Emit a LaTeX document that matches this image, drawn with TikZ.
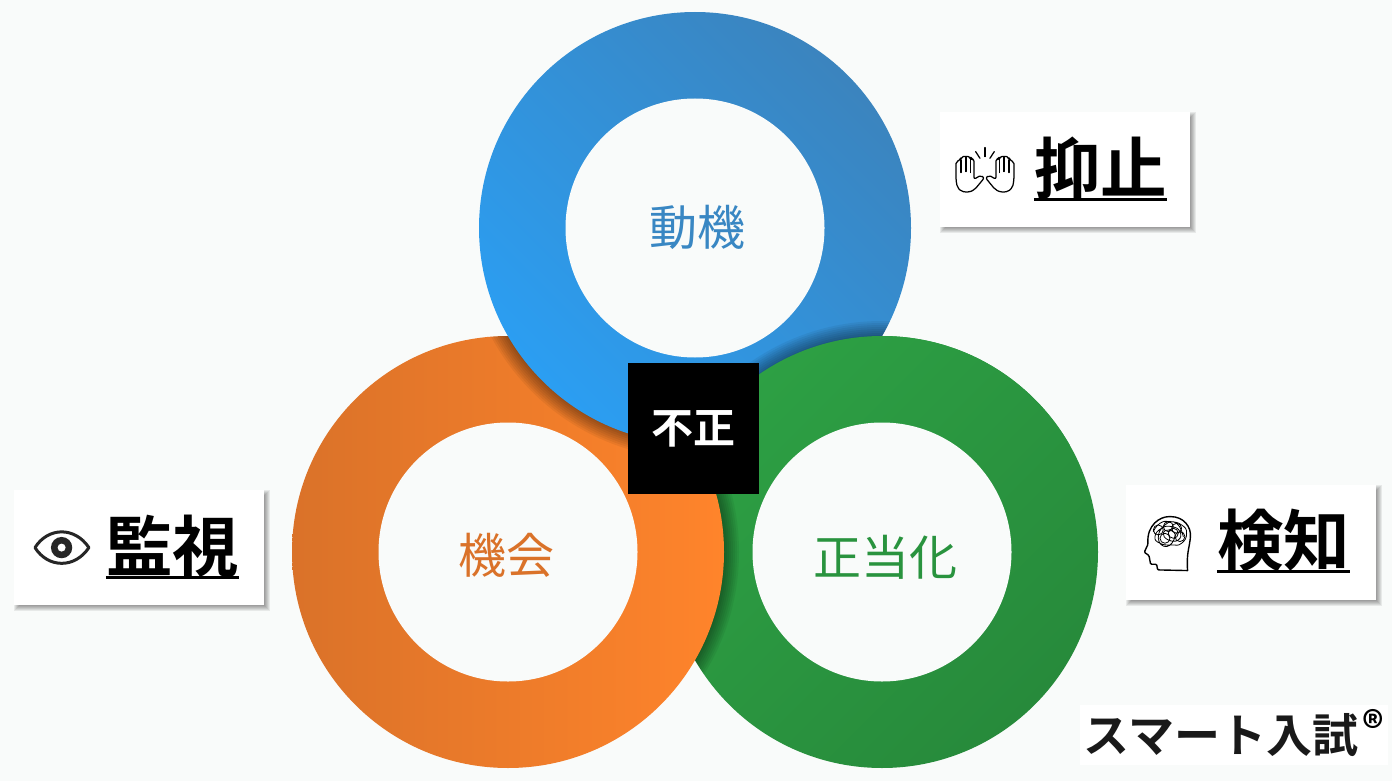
\documentclass[tikz,border=0pt]{standalone}
\usepackage{fontspec}
\setmainfont{Noto Sans CJK JP}[BoldFont={* Bold}]
\usetikzlibrary{positioning}
\definecolor{paper}{HTML}{F9FBFA}
\definecolor{bluedark}{HTML}{3B84BE}
\definecolor{bluelight}{HTML}{2B9EF2}
\definecolor{orangedark}{HTML}{DA7229}
\definecolor{orangelight}{HTML}{FF842B}
\definecolor{greendark}{HTML}{278A3B}
\definecolor{greenlight}{HTML}{2DA044}
\newcommand{\castshadow}[2]{%
  \begin{scope}
    \clip (#1) circle (216);
    \foreach \r in {1,3,...,15} {
      \fill[black,opacity=.055] (#2) circle (216+\r);
    }
  \end{scope}}
\newcommand{\cardshadow}[1]{%
  \foreach \r in {-3,...,3} {
    \fill[black,opacity=.07,shift={(#1)}] (-122-\r,-54.5-\r) rectangle (128+\r,60.5+\r);
  }}
\begin{document}
\begin{tikzpicture}[
    x=1pt, y=-1pt,
    ring/.style = {circle, inner sep=0pt, minimum size=432pt},
    bluering/.style = {ring, bottom color=bluelight, top color=bluedark, shading angle=-45},
    orangering/.style = {ring, left color=orangedark, right color=orangelight},
    greenring/.style = {ring, top color=greenlight, bottom color=greendark, shading angle=45},
    hole/.style = {circle, inner sep=0pt, minimum size=259pt, fill=paper},
    ringtext/.style = {inner sep=0pt, font=\fontsize{48}{48}\selectfont},
    card/.style = {rectangle, fill=white, inner sep=0pt, minimum width=250pt, minimum height=115pt},
    cardtext/.style = {inner sep=0pt, font=\fontsize{66.5}{66.5}\selectfont\bfseries},
    uline/.style = {line width=3.2pt},
    iconline/.style = {line width=1.25pt, line join=round, line cap=round},
    hand/.pic = {
      \draw[iconline,rounded corners=2pt] (78,240) -- (78,185) -- (92,180) -- (93,172) -- (107,168)
        -- (122,172) -- (123,178) -- (132,178) -- (132,238) -- (153,226) -- (163,234)
        -- (135,268) -- (118,277) -- (95,275) -- (82,262) -- cycle;
      \draw[iconline] (93,180) -- (93,218) (108,170) -- (108,215) (122,175) -- (122,218);
      \draw[iconline] (137,155) -- (150,175);
    }
  ]
  \useasboundingbox (0,0) rectangle (1392,781);
  \fill[paper] (0,0) rectangle (1392,781);

  \coordinate (bluec) at (695,228);
  \coordinate (orangec) at (508,552);
  \coordinate (greenc) at (882,552);

  \node[greenring] (greendisc) at (greenc) {};
  \castshadow{greenc}{orangec}
  \node[orangering] (orangedisc) at (orangec) {};
  \castshadow{orangec}{bluec}
  \node[bluering] (bluedisc) at (bluec) {};
  \castshadow{bluec}{greenc}
  \begin{scope}
    \clip (690,300) rectangle (1100,444);
    \node[greenring] at (greenc) {};
  \end{scope}

  \node[hole] (bluehole) at (bluec) {};
  \node[hole] (orangehole) at (orangec) {};
  \node[hole] (greenhole) at (greenc) {};
  \node[ringtext,text=bluedark!90!bluelight] (doki) at (697.5,227) {動機};
  \node[ringtext,text=orangedark] (kikai) at (506,555) {機会};
  \node[ringtext,text=greenlight!92!black] (seitoka) at (885.5,557) {正当化};

  \node[fill=black, text=white, inner sep=0pt, minimum size=131pt, font=\fontsize{42}{42}\selectfont\bfseries] (fusei) at (693.5,428.5) {不正};

  \coordinate (yokushic) at (1065,169.5);
  \coordinate (kenchic) at (1250.5,542);
  \coordinate (kanshic) at (139,547.5);
  \cardshadow{yokushic}
  \cardshadow{kenchic}
  \cardshadow{kanshic}
  \node[card] (yokushicard) at (yokushic) {};
  \node[card] (kenchicard) at (kenchic) {};
  \node[card] (kanshicard) at (kanshic) {};

  \node[cardtext] (yokushi) at (1100.5,168) {抑止};
  \node[cardtext] (kenchi) at (1283.5,540) {検知};
  \node[cardtext] (kanshi) at (172.5,546) {監視};
  \draw[uline] (yokushi.south west) -- (yokushi.south east);
  \draw[uline] (kenchi.south west) -- (kenchi.south east);
  \draw[uline] (kanshi.south west) -- (kanshi.south east);

  \begin{scope}[shift={(930,100)}, x=.333pt, y=-.333pt]
    \pic at (0,0) {hand};
    \pic[xscale=-1] at (330,0) {hand};
    \draw[iconline] (165,143) -- (165,170);
  \end{scope}

  \begin{scope}[shift={(1115,475)}, x=.333pt, y=-.333pt]
    \draw[iconline,line width=1.4pt,rounded corners=1pt] (218,287) -- (128,285) -- (125,268) -- (107,268) -- (102,242)
      -- (88,232) -- (99,208) .. controls (95,150) and (135,125) .. (165,125)
      .. controls (205,125) and (230,155) .. (226,190) .. controls (224,215) and (214,235) .. (218,287);
    \draw[iconline,line width=.8pt] plot[smooth, tension=.9] coordinates {(115,170) (135,145) (165,140) (200,150)
      (215,175) (200,205) (170,210) (135,205) (120,185) (140,160) (170,155) (195,170) (190,195)
      (160,195) (145,175) (165,165) (180,185) (155,215) (130,190) (150,150) (185,145) (205,185)};
    \foreach \cx/\cy in {130/165,150/190,175/175,195/185,160/155,185/160} {
      \draw[iconline,line width=.8pt] (\cx,\cy) circle (15);
    }
  \end{scope}

  \begin{scope}[shift={(5,480)}, x=.333pt, y=-.333pt]
    \draw[line width=3pt,line join=round,draw=black!85] (90,203) .. controls (130,140) and (210,140) .. (252,203)
      .. controls (210,266) and (130,266) .. cycle;
    \fill[black!85] (170,203) circle (32);
    \fill[white] (170,203) circle (12);
  \end{scope}

  \node[fill=white, inner sep=0pt, minimum width=308pt, minimum height=60pt] (logobox) at (1234,735) {};
  \node[inner sep=0pt, text=black!90, font=\fontsize{46}{46}\selectfont\bfseries] (logo) at (1221,735) {スマート入試};
  \node[inner sep=0pt, font=\fontsize{42}{42}\selectfont\bfseries, right=4pt of logo.north east, yshift=-13pt] (mark) {®};
\end{tikzpicture}
\end{document}
